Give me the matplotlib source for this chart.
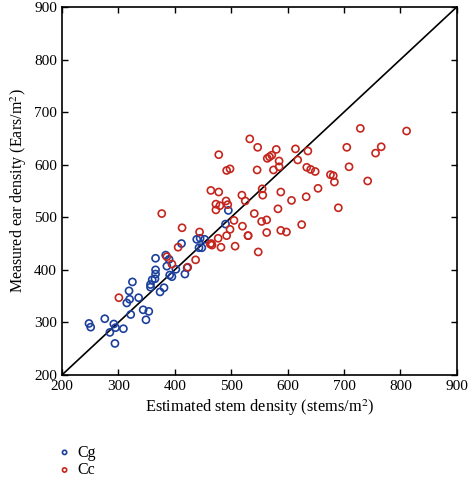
import matplotlib
matplotlib.use("Agg")
import matplotlib.pyplot as plt

# Cg (blue) points: estimated stem density vs measured ear density
cg_x = [248, 251, 276, 292, 295, 285, 294, 309, 322, 315, 320, 319, 325, 336, 344, 354,
        349, 357, 357, 360, 365, 366, 366, 366, 374, 381, 384, 390, 386, 391, 395, 402,
        418, 422, 412, 439, 443, 445, 448, 453, 490, 495]
cg_y = [298, 291, 307, 297, 290, 281, 260, 288, 315, 337, 344, 360, 377, 347, 324, 321,
        305, 367, 372, 381, 383, 392, 400, 422, 358, 366, 428, 420, 407, 390, 387, 401,
        392, 404, 450, 458, 442, 460, 442, 458, 487, 513]

# Cc (red) points
cc_x = [301, 386, 395, 406, 413, 423, 437, 444, 463, 465, 466, 477, 482, 492, 498, 507,
        505, 520, 530, 548, 533, 547, 729, 811, 705, 756, 766, 709, 742, 690, 676, 681,
        683, 614, 636, 618, 634, 641, 649, 654, 633, 607, 625, 598, 588, 563, 530, 541,
        554, 563, 583, 588, 556, 555, 525, 519, 546, 575, 585, 585, 564, 568, 572, 580,
        478, 492, 498, 464, 478, 491, 473, 480, 494, 473, 377]
cc_y = [347, 425, 411, 443, 480, 405, 419, 472, 449, 450, 447, 460, 443, 465, 477, 445,
        494, 483, 465, 434, 649, 633, 669, 664, 633, 622, 634, 596, 569, 518, 581, 579,
        567, 630, 626, 609, 595, 591, 587, 555, 539, 532, 486, 472, 475, 471, 465, 507,
        492, 495, 516, 548, 542, 554, 531, 542, 590, 590, 596, 607, 612, 615, 618, 629,
        619, 589, 592, 551, 548, 531, 525, 522, 524, 514, 507]

x_ticks = [200, 300, 400, 500, 600, 700, 800, 900]
y_ticks = [200, 300, 400, 500, 600, 700, 800, 900]

BLUE = "#1b3f9c"
RED = "#c4261d"

plt.rcParams["font.family"] = ["Liberation Serif", "DejaVu Serif"]
plt.rcParams["mathtext.fontset"] = "stix"

fig = plt.figure(figsize=(4.69, 4.78), dpi=100)
ax = fig.add_axes([0.132, 0.2155, 0.842, 0.770])

ax.plot([200, 900], [200, 900], color="black", linewidth=1.2, zorder=1)
ax.scatter(cg_x, cg_y, s=26, facecolors="none", edgecolors=BLUE, linewidths=1.2,
           label="Cg", zorder=2)
ax.scatter(cc_x, cc_y, s=26, facecolors="none", edgecolors=RED, linewidths=1.2,
           label="Cc", zorder=2)

ax.set_xlim(200, 900)
ax.set_ylim(200, 900)
ax.set_xticks(x_ticks)
ax.set_yticks(y_ticks)
ax.tick_params(direction="in", top=True, right=True, length=4, width=1,
               labelsize=11)
for sp in ax.spines.values():
    sp.set_linewidth(1.2)

ax.set_xlabel("Estimated stem density (stems/m$^2$)", fontsize=11.8, labelpad=3)
ax.set_ylabel("Measured ear density (Ears/m$^2$)", fontsize=11.5)

handles, labels = ax.get_legend_handles_labels()
fig.legend(handles, labels, loc="upper left", bbox_to_anchor=(0.09, 0.1),
           frameon=False, fontsize=11.5, markerscale=0.6, handletextpad=0.3,
           labelspacing=0.1, handlelength=1.0)

fig.savefig("out.png", dpi=100)
